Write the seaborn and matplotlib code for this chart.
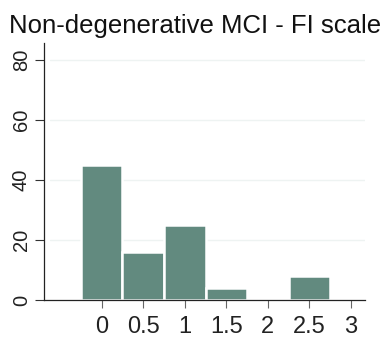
import matplotlib
matplotlib.use("Agg")
import matplotlib.pyplot as plt
import seaborn as sns
import pandas as pd

# FI scale scores and percentage of patients in each bin
fi_scores = [0, 0.5, 1, 1.5, 2, 2.5]
percent = [45, 16, 25, 4, 0, 8]
x_ticks = [0, 0.5, 1, 1.5, 2, 2.5, 3]
x_ticklabels = ["0", "0.5", "1", "1.5", "2", "2.5", "3"]
y_ticks = [0, 20, 40, 60, 80]
title = "Non-degenerative MCI - FI scale"

sns.set_theme(style="white")
plt.rcParams["font.family"] = ["Liberation Sans", "DejaVu Sans"]

W, H = 389, 341
fig = plt.figure(figsize=(W / 100, H / 100), dpi=100)
ax = fig.add_axes([44 / W, 1 - 300 / H, (365 - 44) / W, (300 - 43) / H])

df = pd.DataFrame({"score": fi_scores, "pct": percent})
sns.barplot(data=df, x="score", y="pct", native_scale=True, width=1.0,
            color="#628a7f", saturation=1, edgecolor="white", linewidth=1.8,
            ax=ax)

ax.set_xlim(-0.695, 3.17)
ax.set_ylim(0, 85.7)
ax.set_xticks(x_ticks)
ax.set_xticklabels(x_ticklabels)
ax.set_yticks(y_ticks)
ax.set_yticklabels([str(v) for v in y_ticks], rotation=90, va="center")
ax.set_xlabel("")
ax.set_ylabel("")

for v in y_ticks[1:]:
    ax.axhline(v, xmin=0.02, xmax=1.0, color="#eef3f2", lw=1.0, zorder=0)

for side in ["top", "right"]:
    ax.spines[side].set_visible(False)
for side in ["left", "bottom"]:
    ax.spines[side].set_color("#222222")
    ax.spines[side].set_linewidth(0.9)

ax.tick_params(axis="x", direction="out", length=5.5, width=0.8,
               color="#666666", labelsize=17, pad=6, labelcolor="#222222")
ax.tick_params(axis="y", direction="out", length=6.5, width=0.8,
               color="#333333", labelsize=14.5, pad=3, labelcolor="#222222")
ax.tick_params(bottom=True, left=True)

fig.text(9 / W, 1 - 32.5 / H, title, fontsize=18.5, color="#111111",
         ha="left", va="baseline")

fig.savefig("out.png", dpi=100, facecolor="white")
